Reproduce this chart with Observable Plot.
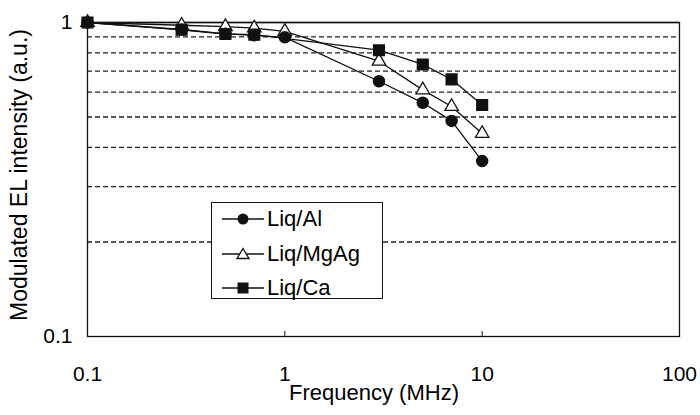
<!DOCTYPE html>
<html><head><meta charset="utf-8">
<script src="https://cdn.jsdelivr.net/npm/d3@7"></script>
<script src="https://cdn.jsdelivr.net/npm/@observablehq/plot@0.6"></script>
<style>
body{margin:0;background:#fff;}
#wrap{position:relative;width:700px;height:415px;font-family:"Liberation Sans",Arial,sans-serif;color:#000;}
#wrap svg{display:block;}
.ttl{position:absolute;white-space:nowrap;line-height:1;}
#legend{position:absolute;left:211px;top:202px;width:172px;height:97px;box-sizing:border-box;border:1.3px solid #111;background:#fff;}
.lrow{position:absolute;left:10px;height:30px;display:flex;align-items:center;font-size:22px;}
.lrow svg{margin-right:3px;}
</style></head><body><div id="wrap"></div>
<script>
const freq = [0.1, 0.3, 0.5, 0.7, 1, 3, 5, 7, 10];
const liqAl   = [1, 0.95, 0.92, 0.91, 0.897, 0.65, 0.555, 0.486, 0.362];
const liqMgAg = [1, 0.98, 0.97, 0.96, 0.937, 0.753, 0.61, 0.54, 0.443];
const liqCa   = [1, 0.948, 0.919, 0.915, null, 0.816, 0.735, 0.659, 0.546];
const seriesNames = ["Liq/Al", "Liq/MgAg", "Liq/Ca"];
const minorGrid = [0.2, 0.3, 0.4, 0.5, 0.6, 0.7, 0.8, 0.9];
const majorGrid = [1];
const xTicks = [0.1, 1, 10, 100];
const xInnerTicks = [1, 10];
const yTicks = [0.1, 1];
const xTitle = "Frequency (MHz)";
const yTitle = "Modulated EL intensity (a.u.)";

const seriesValues = [liqAl, liqMgAg, liqCa];
const rows = [];
seriesValues.forEach((vals, s) => vals.forEach((v, i) => {
  if (v != null) rows.push({series: seriesNames[s], f: freq[i], v});
}));
const bySeries = name => rows.filter(d => d.series === name);

const chart = Plot.plot({
  width: 700, height: 415,
  marginLeft: 87, marginRight: 21, marginTop: 22, marginBottom: 79,
  style: {fontFamily: '"Liberation Sans", Arial, sans-serif', fontSize: "21px", color: "#000", background: "#fff"},
  x: {type: "log", domain: [0.1, 100]},
  y: {type: "log", domain: [0.1, 1]},
  marks: [
    Plot.ruleY(minorGrid, {stroke: "#222", strokeWidth: 1.3, strokeDasharray: "5,3"}),
    Plot.ruleY(majorGrid, {stroke: "#111", strokeWidth: 1.3}),
    Plot.frame({stroke: "#111", strokeWidth: 1.3}),
    Plot.axisX({ticks: xTicks, tickSize: 0, tickPadding: 30, tickFormat: d => String(d), label: null, fontSize: 21}),
    Plot.axisX({ticks: xInnerTicks, tickSize: -5, tickFormat: () => "", label: null, stroke: "#111"}),
    Plot.axisY({ticks: yTicks, tickSize: 0, tickPadding: 15, tickFormat: d => String(d), label: null, fontSize: 21}),
    Plot.line(rows, {x: "f", y: "v", z: "series", stroke: "#111", strokeWidth: 1.3}),
    Plot.dot(bySeries("Liq/MgAg"), {x: "f", y: "v", symbol: "triangle", r: 5, fill: "#fff", stroke: "#111", strokeWidth: 1.3}),
    Plot.dot(bySeries("Liq/Al"), {x: "f", y: "v", symbol: "circle", r: 5.5, fill: "#111", stroke: "#111"}),
    Plot.dot(bySeries("Liq/Ca"), {x: "f", y: "v", symbol: "square", r: 6, fill: "#111", stroke: "#111"})
  ]
});
const wrap = document.getElementById("wrap");
wrap.appendChild(chart);

// axis titles
const xt = document.createElement("div");
xt.className = "ttl"; xt.textContent = xTitle;
xt.style.fontSize = "22px";
xt.style.left = "374px"; xt.style.top = "382px"; xt.style.transform = "translateX(-50%)";
wrap.appendChild(xt);
const yt = document.createElement("div");
yt.className = "ttl"; yt.textContent = yTitle;
yt.style.fontSize = "23px";
yt.style.left = "19px"; yt.style.top = "175px";
yt.style.transform = "translate(-50%,-50%) rotate(-90deg)";
wrap.appendChild(yt);

// legend
const legend = document.createElement("div");
legend.id = "legend";
const symbols = {
  "Liq/Al": '<circle cx="21" cy="10" r="5.5" fill="#111"/>',
  "Liq/MgAg": '<path d="M21,4.5 L27,14.5 L15,14.5 Z" fill="#fff" stroke="#111" stroke-width="1.3"/>',
  "Liq/Ca": '<rect x="15.5" y="4.5" width="11" height="11" fill="#111"/>'
};
seriesNames.forEach((name, i) => {
  const row = document.createElement("div");
  row.className = "lrow";
  row.style.top = (1 + i * 34.5) + "px";
  row.innerHTML = '<svg width="42" height="20"><line x1="0" x2="42" y1="10" y2="10" stroke="#111" stroke-width="1.3"/>' + symbols[name] + '</svg><span>' + name + '</span>';
  legend.appendChild(row);
});
wrap.appendChild(legend);
</script></body></html>
